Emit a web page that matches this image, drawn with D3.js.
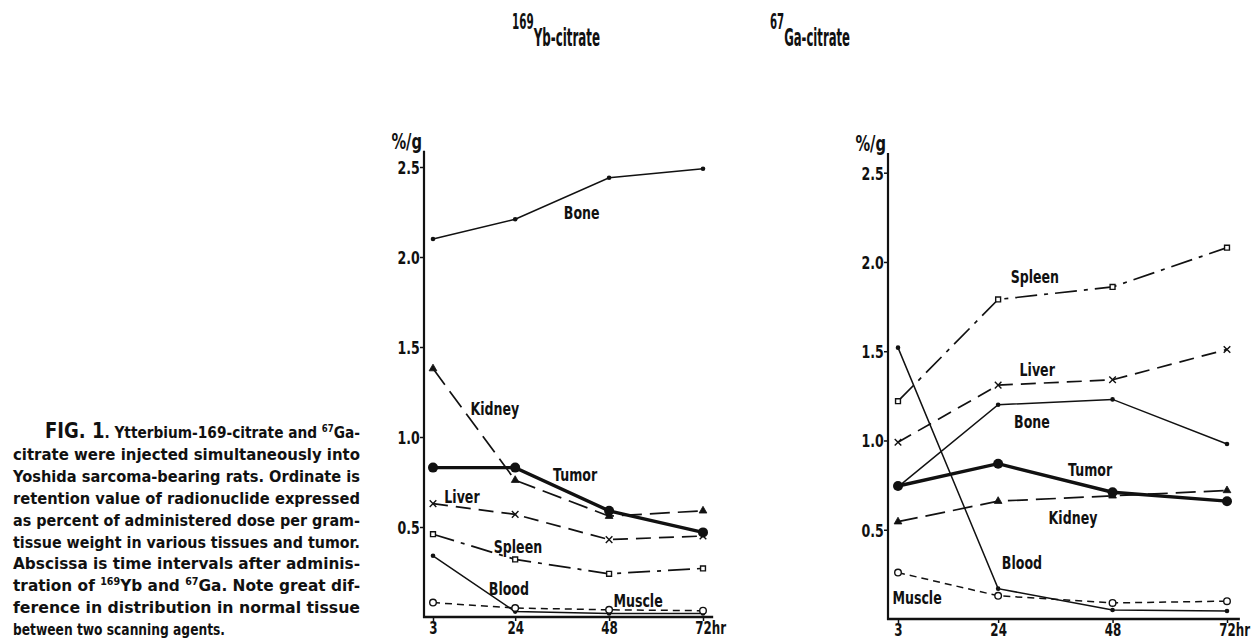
<!DOCTYPE html>
<html lang="en">
<head>
<meta charset="UTF-8" />
<title>169Yb-citrate and 67Ga-citrate tissue distribution</title>
<script src="https://d3js.org/d3.v7.min.js"></script>
<style>
  body { margin: 0; background: #fff; }
  svg { display: block; background: #fff; }
  text { font-family: "DejaVu Sans", sans-serif; font-weight: bold; fill: #111; }
</style>
</head>
<body>
<svg width="1260" height="640"></svg>
<script>
  // hours after administration
  const hours = [3, 24, 48, 72];
  const yTicks = [0.5, 1.0, 1.5, 2.0, 2.5];
  const tissues = ["Bone", "Kidney", "Tumor", "Liver", "Spleen", "Blood", "Muscle"];

  // 169Yb-citrate, % dose per gram
  const ybBone   = [2.10, 2.21, 2.44, 2.49];
  const ybKidney = [1.38, 0.76, 0.56, 0.59];
  const ybTumor  = [0.83, 0.83, 0.59, 0.47];
  const ybLiver  = [0.63, 0.57, 0.43, 0.45];
  const ybSpleen = [0.46, 0.32, 0.24, 0.27];
  const ybBlood  = [0.34, 0.03, 0.02, 0.02];
  const ybMuscle = [0.08, 0.05, 0.04, 0.035];

  // 67Ga-citrate, % dose per gram
  const gaBone   = [0.74, 1.20, 1.23, 0.98];
  const gaKidney = [0.545, 0.66, 0.69, 0.72];
  const gaTumor  = [0.745, 0.87, 0.71, 0.66];
  const gaLiver  = [0.99, 1.31, 1.34, 1.51];
  const gaSpleen = [1.22, 1.79, 1.86, 2.08];
  const gaBlood  = [1.52, 0.17, 0.05, 0.045];
  const gaMuscle = [0.26, 0.13, 0.09, 0.10];

  const captionLines = [
    "Ytterbium-169-citrate and ^67Ga-",
    "citrate were injected simultaneously into",
    "Yoshida sarcoma-bearing rats. Ordinate is",
    "retention value of radionuclide expressed",
    "as percent of administered dose per gram-",
    "tissue weight in various tissues and tumor.",
    "Abscissa is time intervals after adminis-",
    "tration of ^169Yb and ^67Ga. Note great dif-",
    "ference in distribution in normal tissue",
    "between two scanning agents."
  ];

  // where the curve names sit, in (hour, value) units
  const ybLabelAt = [[41, 2.245], [18.8, 1.16], [39.3, 0.79], [10.4, 0.667], [24.7, 0.389], [22.4, 0.161], [55.4, 0.094]];
  const gaLabelAt = [[31.1, 1.109], [39.7, 0.566], [43.3, 0.835], [32.2, 1.40], [31.7, 1.916], [29.0, 0.314], [7.0, 0.123]];

  const styleOf = {
    Bone:   { dash: null, width: 1.5, mark: "dot" },
    Kidney: { dash: "20,8", width: 1.7, mark: "triangle" },
    Tumor:  { dash: null, width: 3.4, mark: "disc" },
    Liver:  { dash: "15,8", width: 1.7, mark: "cross" },
    Spleen: { dash: "22,7,4,7", width: 1.7, mark: "square" },
    Blood:  { dash: null, width: 1.5, mark: "dot" },
    Muscle: { dash: "7,5", width: 1.5, mark: "ring" }
  };

  const SX = 0.7; // the original lettering is a narrow face
  const svg = d3.select("svg");

  const panels = [
    { sup: "169", name: "Yb-citrate", titleX: 512, titleW: 88,
      data: [ybBone, ybKidney, ybTumor, ybLiver, ybSpleen, ybBlood, ybMuscle], labels: ybLabelAt,
      xRange: [433, 703], yRange: [617, 167], axisX: 424, axisTop: 2.59, axisEnd: 74.6 },
    { sup: "67", name: "Ga-citrate", titleX: 770, titleW: 80,
      data: [gaBone, gaKidney, gaTumor, gaLiver, gaSpleen, gaBlood, gaMuscle], labels: gaLabelAt,
      xRange: [898, 1227], yRange: [619, 172.7], axisX: 888, axisTop: 2.61, axisEnd: 74.7 }
  ];

  function narrow(sel, x, y) {
    return sel.attr("transform", `translate(${x},${y}) scale(${SX},1)`);
  }

  panels.forEach(p => {
    const x = d3.scaleLinear().domain([3, 72]).range(p.xRange);
    const y = d3.scaleLinear().domain([0, 2.5]).range(p.yRange);
    const g = svg.append("g");

    // title
    const t = g.append("text")
      .attr("x", p.titleX).attr("y", 46)
      .attr("textLength", p.titleW).attr("lengthAdjust", "spacingAndGlyphs");
    t.append("tspan").attr("dy", -17).style("font-size", "21px").text(p.sup);
    t.append("tspan").attr("dy", 17).style("font-size", "24px").text(p.name);

    // axes
    const ya = g.append("g").attr("transform", `translate(${p.axisX},0)`)
      .call(d3.axisLeft(y).tickValues(yTicks).tickSize(4).tickPadding(2).tickFormat(d3.format(".1f")));
    ya.select(".domain").remove();
    ya.selectAll("line").attr("stroke", "#111").attr("stroke-width", 1.5);
    ya.selectAll("text").attr("transform", `scale(${SX},1)`).style("font-size", "18px").attr("dy", "0.36em");

    g.append("line")
      .attr("x1", p.axisX).attr("x2", p.axisX)
      .attr("y1", y(0) + 1).attr("y2", y(p.axisTop))
      .attr("stroke", "#111").attr("stroke-width", 2.2);

    const xa = g.append("g").attr("transform", `translate(0,${y(0)})`)
      .call(d3.axisBottom(x).tickValues(hours).tickSize(4).tickPadding(2).tickFormat(d3.format("d")));
    xa.select(".domain").remove();
    xa.selectAll("line").attr("stroke", "#111").attr("stroke-width", 1.5);
    xa.selectAll("text").attr("transform", `scale(${SX},1)`).style("font-size", "17px").attr("dy", "0.66em");
    xa.selectAll("text").filter(d => d === 72).each(function () {
      const el = d3.select(this);
      const w = this.getComputedTextLength();
      el.attr("text-anchor", "start").attr("x", -w / 2);
      el.append("tspan").text("hr");
    });

    g.append("line")
      .attr("x1", p.axisX - 1).attr("x2", x(p.axisEnd))
      .attr("y1", y(0)).attr("y2", y(0))
      .attr("stroke", "#111").attr("stroke-width", 2.4);

    // unit
    narrow(g.append("text"), p.axisX - 2, y(p.axisTop) - 2)
      .attr("text-anchor", "end").style("font-size", "21px").text("%/g");

    const line = d3.line().x((d, i) => x(hours[i])).y(d => y(d));

    tissues.forEach((name, k) => {
      const s = styleOf[name];
      const vals = p.data[k];
      g.append("path")
        .datum(vals)
        .attr("fill", "none")
        .attr("stroke", "#111")
        .attr("stroke-width", s.width)
        .attr("stroke-dasharray", s.dash)
        .attr("d", line);

      const marks = g.selectAll(null).data(vals).enter();
      const cx = (d, i) => x(hours[i]);
      if (s.mark === "dot" || s.mark === "disc") {
        marks.append("circle")
          .attr("cx", cx).attr("cy", d => y(d))
          .attr("r", s.mark === "disc" ? 5 : 2.3)
          .attr("fill", "#111");
      } else if (s.mark === "ring") {
        marks.append("circle")
          .attr("cx", cx).attr("cy", d => y(d))
          .attr("r", 3.3)
          .attr("fill", "#fff").attr("stroke", "#111").attr("stroke-width", 1.4);
      } else {
        const type = { triangle: d3.symbolTriangle, cross: d3.symbolTimes, square: d3.symbolSquare }[s.mark];
        const size = { triangle: 26, cross: 30, square: 24 }[s.mark];
        marks.append("path")
          .attr("transform", (d, i) => `translate(${cx(d, i)},${y(d)})`)
          .attr("d", d3.symbol().type(type).size(size))
          .attr("fill", s.mark === "triangle" ? "#111" : "#fff")
          .attr("stroke", "#111")
          .attr("stroke-width", s.mark === "triangle" ? 0.8 : 1.4);
      }

      const at = p.labels[k];
      narrow(g.append("text"), x(at[0]), y(at[1]) + 6.5)
        .attr("text-anchor", "middle")
        .style("font-size", "18px")
        .text(name);
    });
  });

  // caption, justified
  const cap = svg.append("g");
  captionLines.forEach((ln, i) => {
    const first = i === 0;
    const last = i === captionLines.length - 1;
    const t = cap.append("text")
      .attr("x", first ? 45 : 13)
      .attr("y", 438 + 21.9 * i)
      .attr("textLength", first ? 315 : last ? 212 : 347)
      .attr("lengthAdjust", "spacingAndGlyphs")
      .style("font-size", "16px");
    if (first) {
      t.append("tspan").style("font-size", "21px").text("FIG. 1");
      t.append("tspan").text(". ");
    }
    let raised = false;
    ln.split(/(\^\d+)/).forEach(part => {
      if (!part) return;
      if (part[0] === "^") {
        t.append("tspan").attr("dy", -6).style("font-size", "10px").text(part.slice(1));
        raised = true;
      } else {
        t.append("tspan").attr("dy", raised ? 6 : null).text(part);
        raised = false;
      }
    });
  });
</script>
</body>
</html>
